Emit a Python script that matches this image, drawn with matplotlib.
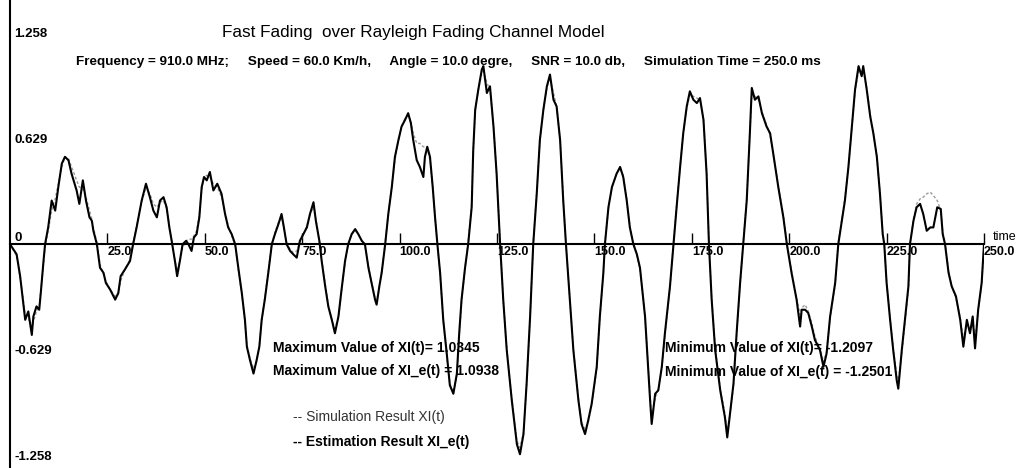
import matplotlib
matplotlib.use("Agg")
import matplotlib.pyplot as plt
from matplotlib import font_manager

names = {f.name for f in font_manager.fontManager.ttflist}
NARROW = 'Liberation Sans Narrow' if 'Liberation Sans Narrow' in names else 'Liberation Sans'
REG = 'Liberation Sans'

# ---------------- data ----------------
time_ms = [
    0.0, 1.7, 2.6, 3.4, 3.9, 4.7, 5.6, 6.0, 6.8, 7.5, 7.9, 8.6, 9.0, 9.8, 10.7, 11.6, 12.4, 13.3, 14.1, 15.0,
    15.8, 17.1, 17.8, 18.7, 19.5, 20.4, 21.0, 21.4, 22.3, 23.1, 24.0, 24.6, 25.7, 27.0, 27.8, 28.4, 29.5, 30.8, 31.6, 32.5,
    33.8, 34.9, 35.9, 36.8, 37.7, 38.5, 39.4, 40.2, 40.9, 41.5, 42.4, 42.9, 43.6, 44.3, 45.2, 45.8, 46.6, 47.2, 47.9, 48.6,
    49.2, 49.8, 50.5, 51.3, 52.2, 53.2, 54.3, 55.2, 56.0, 56.9, 57.8, 58.6, 59.5, 60.3, 60.8, 61.6, 62.5, 63.3, 64.0, 64.6,
    65.4, 66.3, 67.2, 68.0, 68.9, 69.7, 70.3, 71.0, 71.9, 72.7, 73.6, 74.4, 75.3, 76.2, 77.0, 77.9, 78.5, 79.4, 80.0, 80.9,
    81.7, 82.6, 83.4, 84.3, 85.1, 86.0, 86.8, 87.7, 88.6, 89.4, 90.3, 91.1, 92.0, 92.8, 93.7, 94.1, 94.8, 95.4, 96.3, 97.1,
    98.0, 98.8, 99.7, 100.5, 101.4, 102.2, 102.9, 103.5, 104.4, 105.2, 106.1, 106.5, 107.1, 107.8, 108.5, 109.1, 109.7, 110.4, 111.2, 112.1,
    112.9, 113.8, 114.7, 115.3, 115.9, 116.8, 117.6, 118.5, 118.9, 119.4, 120.2, 121.1, 121.5, 122.4, 123.2, 124.1, 124.9, 125.8, 126.6, 127.5,
    128.8, 130.1, 130.9, 131.8, 132.6, 133.5, 134.3, 135.2, 136.0, 136.9, 137.8, 138.6, 139.5, 140.3, 141.2, 142.0, 142.7, 143.7, 144.6, 145.9,
    146.7, 147.6, 148.4, 149.3, 150.6, 151.4, 152.3, 152.7, 153.6, 154.5, 155.7, 156.6, 157.4, 158.3, 159.1, 160.0, 160.9, 161.7, 163.0, 164.3,
    164.7, 165.6, 166.4, 167.3, 168.1, 169.4, 170.3, 171.1, 172.0, 172.8, 173.7, 174.5, 175.4, 176.3, 177.1, 178.0, 178.8, 179.4, 180.1, 181.0,
    182.3, 183.5, 184.1, 184.8, 185.7, 186.5, 187.4, 188.2, 189.1, 189.9, 190.4, 191.2, 192.1, 193.0, 194.2, 195.1, 195.9, 197.2, 198.5, 199.4,
    200.6, 201.9, 202.8, 203.2, 204.1, 204.9, 205.8, 206.6, 207.9, 208.8, 209.6, 210.5, 211.8, 212.6, 213.5, 214.3, 215.2, 216.1, 216.9, 217.8,
    218.6, 219.0, 219.9, 220.8, 221.6, 222.5, 223.3, 224.0, 224.4, 225.0, 225.9, 226.7, 227.6, 228.0, 228.9, 229.7, 230.6, 231.0, 231.9, 232.7,
    233.6, 234.4, 235.3, 236.2, 237.0, 238.0, 238.9, 239.4, 240.0, 240.9, 241.7, 242.8, 243.9, 244.7, 245.6, 246.4, 247.1, 247.7, 248.5, 249.4,
    250.0,
]

estimation_xi_e = [
    0.00, -0.06, -0.19, -0.35, -0.45, -0.40, -0.54, -0.43, -0.37, -0.39, -0.29, -0.10, 0.00, 0.10, 0.26, 0.20, 0.34, 0.48, 0.52, 0.50,
    0.42, 0.32, 0.24, 0.38, 0.26, 0.16, 0.14, 0.08, 0.00, -0.14, -0.17, -0.23, -0.27, -0.33, -0.29, -0.19, -0.15, -0.10, 0.00, 0.10,
    0.26, 0.36, 0.28, 0.20, 0.16, 0.26, 0.28, 0.22, 0.10, 0.02, -0.11, -0.19, -0.10, 0.00, 0.02, 0.00, -0.04, 0.04, 0.06, 0.16,
    0.34, 0.40, 0.38, 0.43, 0.32, 0.36, 0.30, 0.18, 0.10, 0.06, 0.00, -0.14, -0.29, -0.45, -0.61, -0.69, -0.77, -0.69, -0.61, -0.45,
    -0.33, -0.17, 0.00, 0.06, 0.12, 0.18, 0.10, 0.00, -0.04, -0.06, -0.08, 0.02, 0.06, 0.10, 0.18, 0.25, 0.14, 0.02, -0.10, -0.25,
    -0.37, -0.45, -0.53, -0.43, -0.27, -0.10, 0.00, 0.06, 0.09, 0.06, 0.02, 0.00, -0.14, -0.23, -0.33, -0.36, -0.25, -0.17, 0.00, 0.18,
    0.34, 0.52, 0.62, 0.70, 0.74, 0.78, 0.72, 0.62, 0.50, 0.46, 0.40, 0.52, 0.58, 0.52, 0.34, 0.16, 0.00, -0.17, -0.45, -0.65,
    -0.84, -0.89, -0.77, -0.53, -0.33, -0.14, 0.00, 0.22, 0.56, 0.80, 0.92, 1.04, 1.06, 0.90, 0.94, 0.70, 0.42, 0.00, -0.33, -0.63,
    -0.93, -1.19, -1.25, -1.13, -0.83, -0.43, 0.00, 0.30, 0.62, 0.80, 0.94, 1.01, 0.86, 0.82, 0.62, 0.26, 0.00, -0.33, -0.63, -0.93,
    -1.07, -1.13, -1.05, -0.95, -0.73, -0.43, -0.17, 0.00, 0.22, 0.34, 0.42, 0.46, 0.40, 0.26, 0.10, 0.00, -0.06, -0.14, -0.43, -0.93,
    -1.07, -0.89, -0.87, -0.73, -0.53, -0.25, 0.00, 0.22, 0.46, 0.66, 0.82, 0.91, 0.86, 0.84, 0.87, 0.74, 0.42, 0.00, -0.33, -0.63,
    -0.87, -1.03, -1.15, -1.01, -0.83, -0.53, -0.23, 0.00, 0.26, 0.66, 0.93, 0.86, 0.88, 0.78, 0.70, 0.66, 0.54, 0.34, 0.16, 0.00,
    -0.17, -0.33, -0.49, -0.39, -0.39, -0.41, -0.49, -0.57, -0.63, -0.73, -0.65, -0.43, -0.23, 0.00, 0.14, 0.26, 0.46, 0.70, 0.92, 1.06,
    1.00, 1.06, 0.92, 0.76, 0.66, 0.52, 0.30, 0.06, 0.00, -0.23, -0.45, -0.63, -0.81, -0.86, -0.63, -0.45, -0.25, 0.00, 0.14, 0.22,
    0.24, 0.18, 0.08, 0.10, 0.10, 0.22, 0.21, 0.06, 0.00, -0.17, -0.25, -0.31, -0.45, -0.61, -0.45, -0.53, -0.43, -0.62, -0.39, -0.23,
    0.00,
]

simulation_xi = [
    0.00, -0.07, -0.20, -0.33, -0.42, -0.44, -0.50, -0.46, -0.40, -0.37, -0.28, -0.12, -0.02, 0.08, 0.20, 0.27, 0.36, 0.46, 0.52, 0.51,
    0.46, 0.38, 0.34, 0.33, 0.28, 0.20, 0.15, 0.10, 0.01, -0.12, -0.18, -0.22, -0.27, -0.31, -0.30, -0.22, -0.15, -0.09, 0.01, 0.11,
    0.25, 0.34, 0.30, 0.24, 0.22, 0.25, 0.26, 0.21, 0.11, 0.02, -0.10, -0.16, -0.10, -0.02, 0.02, 0.03, 0.03, 0.05, 0.08, 0.18,
    0.32, 0.40, 0.41, 0.40, 0.36, 0.34, 0.28, 0.19, 0.11, 0.05, -0.01, -0.15, -0.30, -0.46, -0.60, -0.68, -0.74, -0.70, -0.60, -0.46,
    -0.32, -0.16, 0.00, 0.07, 0.13, 0.16, 0.10, 0.01, -0.03, -0.05, -0.04, 0.01, 0.06, 0.11, 0.18, 0.22, 0.15, 0.03, -0.09, -0.24,
    -0.36, -0.45, -0.50, -0.44, -0.28, -0.11, 0.00, 0.06, 0.08, 0.06, 0.02, -0.01, -0.13, -0.23, -0.32, -0.34, -0.26, -0.16, 0.01, 0.18,
    0.35, 0.50, 0.62, 0.70, 0.75, 0.77, 0.73, 0.66, 0.60, 0.60, 0.58, 0.58, 0.57, 0.50, 0.34, 0.16, 0.00, -0.18, -0.45, -0.66,
    -0.83, -0.88, -0.78, -0.55, -0.34, -0.14, 0.01, 0.24, 0.55, 0.79, 0.92, 1.02, 1.03, 0.96, 0.92, 0.71, 0.42, 0.01, -0.33, -0.62,
    -0.92, -1.17, -1.21, -1.12, -0.84, -0.44, 0.01, 0.31, 0.61, 0.80, 0.93, 0.99, 0.90, 0.82, 0.62, 0.27, 0.00, -0.33, -0.62, -0.92,
    -1.06, -1.10, -1.06, -0.96, -0.74, -0.44, -0.17, 0.01, 0.21, 0.34, 0.42, 0.45, 0.41, 0.27, 0.11, 0.01, -0.07, -0.15, -0.44, -0.90,
    -1.03, -0.92, -0.86, -0.74, -0.54, -0.26, 0.01, 0.23, 0.46, 0.66, 0.81, 0.89, 0.88, 0.87, 0.86, 0.74, 0.43, 0.01, -0.32, -0.62,
    -0.86, -1.01, -1.10, -1.02, -0.84, -0.54, -0.24, 0.01, 0.27, 0.65, 0.90, 0.88, 0.86, 0.79, 0.71, 0.65, 0.54, 0.35, 0.17, 0.01,
    -0.16, -0.32, -0.42, -0.38, -0.36, -0.40, -0.47, -0.55, -0.62, -0.70, -0.64, -0.44, -0.24, 0.01, 0.15, 0.27, 0.46, 0.70, 0.91, 1.03,
    1.03, 1.04, 0.93, 0.77, 0.66, 0.52, 0.31, 0.07, 0.01, -0.22, -0.44, -0.62, -0.78, -0.82, -0.65, -0.47, -0.27, 0.00, 0.15, 0.24,
    0.27, 0.28, 0.30, 0.31, 0.29, 0.26, 0.20, 0.08, 0.01, -0.16, -0.25, -0.32, -0.44, -0.56, -0.48, -0.50, -0.48, -0.56, -0.40, -0.24,
    0.00,
]

x_ticks = [25.0, 50.0, 75.0, 100.0, 125.0, 150.0, 175.0, 200.0, 225.0, 250.0]
x_tick_labels = ["25.0", "50.0", "75.0", "100.0", "125.0", "150.0", "175.0", "200.0", "225.0", "250.0"]
y_ticks = [1.258, 0.629, 0.0, -0.629, -1.258]
y_tick_labels = ["1.258", "0.629", "0", "-0.629", "-1.258"]

title = "Fast Fading  over Rayleigh Fading Channel Model"
subtitle = ("Frequency = 910.0 MHz;     Speed = 60.0 Km/h,     Angle = 10.0 degre,     "
            "SNR = 10.0 db,     Simulation Time = 250.0 ms")
max_xi = 1.0345
max_xi_e = 1.0938
min_xi = -1.2097
min_xi_e = -1.2501

# ---------------- figure ----------------
W, H = 1023, 468
fig = plt.figure(figsize=(W / 100, H / 100), dpi=100)
fig.patch.set_facecolor("white")
ax = fig.add_axes([10 / W, 0.0, (984 - 10) / W, 1.0])
ax.set_xlim(0, 250)
ax.set_ylim(-1.332, 1.4536)

ax.plot(time_ms, simulation_xi, color="#9a9a9a", lw=1.0, ls=(0, (2, 1.5)), zorder=2)
ax.plot(time_ms, estimation_xi_e, color="black", lw=1.5, zorder=3)

for s in ("top", "right"):
    ax.spines[s].set_visible(False)
ax.spines["bottom"].set_position(("data", 0))
ax.spines["bottom"].set_linewidth(1.5)
ax.spines["left"].set_linewidth(1.5)

ax.set_xticks(x_ticks)
ax.set_xticklabels(x_tick_labels)
ax.tick_params(axis="x", direction="in", length=8, width=1.0, pad=1)
for lab in ax.get_xticklabels():
    lab.set_horizontalalignment("left")
    lab.set_fontfamily(NARROW)
    lab.set_fontweight("bold")
    lab.set_fontsize(9)

ax.set_yticks(y_ticks)
ax.set_yticklabels(y_tick_labels)
ax.tick_params(axis="y", length=0, pad=-3)
for lab, txt in zip(ax.get_yticklabels(), y_tick_labels):
    lab.set_horizontalalignment("left")
    lab.set_fontfamily(NARROW)
    lab.set_fontweight("bold")
    lab.set_fontsize(9.5)
    if txt == "0":
        lab.set_verticalalignment("bottom")

def fx(px):
    return px / W

def fy(py):
    return 1 - py / H

fig.text(fx(413), fy(32), title, ha="center", va="center", fontsize=12.3, family=REG)
fig.text(fx(76), fy(62), subtitle, ha="left", va="center", fontsize=9.7, family=NARROW, fontweight="bold")

fig.text(fx(273), fy(348), f"Maximum Value of XI(t)= {max_xi:.4f}", ha="left", va="center",
         fontsize=10, family=NARROW, fontweight="bold")
fig.text(fx(273), fy(371), f"Maximum Value of XI_e(t) = {max_xi_e:.4f}", ha="left", va="center",
         fontsize=10, family=NARROW, fontweight="bold")
fig.text(fx(665), fy(348), f"Minimum Value of XI(t)= {min_xi:.4f}", ha="left", va="center",
         fontsize=10, family=NARROW, fontweight="bold")
fig.text(fx(665), fy(372), f"Minimum Value of XI_e(t) = {min_xi_e:.4f}", ha="left", va="center",
         fontsize=10, family=NARROW, fontweight="bold")

fig.text(fx(293), fy(417), "-- Simulation Result XI(t)", ha="left", va="center",
         fontsize=10, family=NARROW, color="#333333")
fig.text(fx(293), fy(442), "-- Estimation Result XI_e(t)", ha="left", va="center",
         fontsize=10, family=NARROW, fontweight="bold")

fig.text(fx(993), fy(237), "time", ha="left", va="center", fontsize=9, family=REG)

fig.savefig("out.png", dpi=100, facecolor="white")
